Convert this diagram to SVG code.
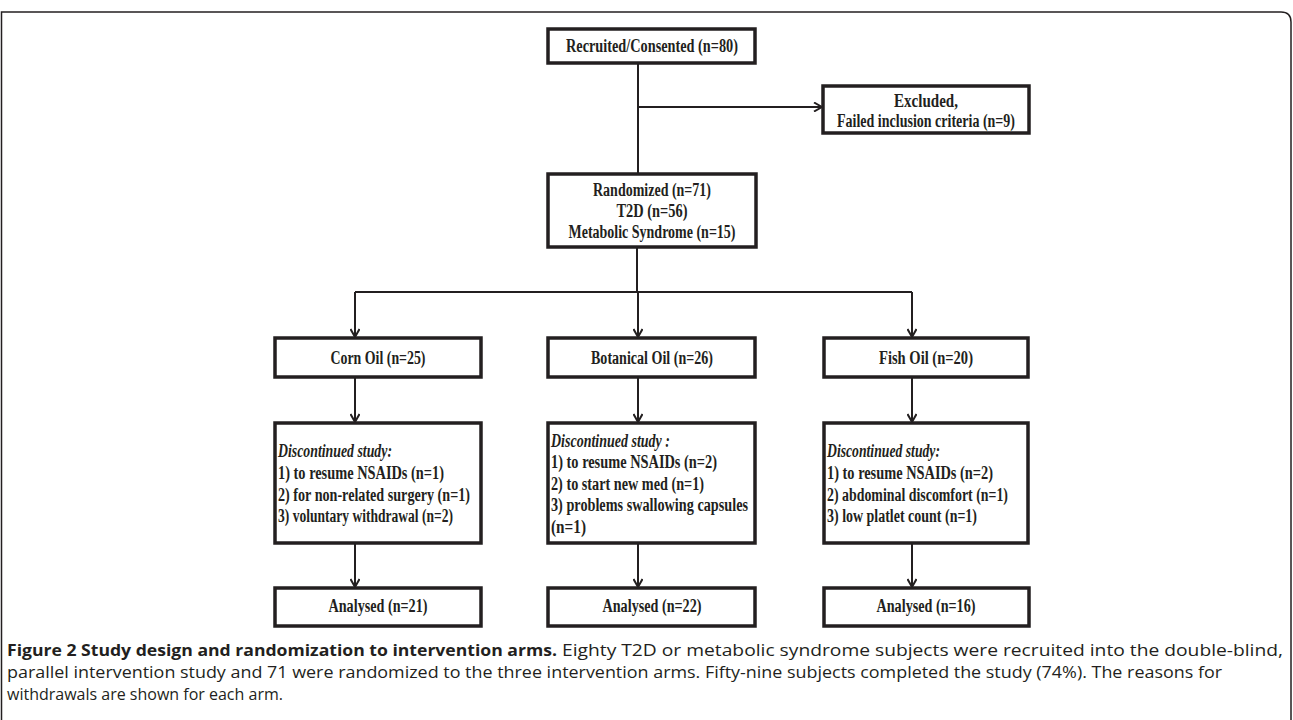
<svg xmlns="http://www.w3.org/2000/svg" width="1293" height="720" viewBox="0 0 1293 720">
<style>
.box{fill:#fff;stroke:#231f20;stroke-width:3.5}
.ln{fill:none;stroke:#231f20;stroke-width:2}
.t{font-family:"Liberation Serif",serif;font-weight:bold;font-size:18px;fill:#231f20}
.c{text-anchor:middle}
.it{font-style:italic}
.cap{font-family:"Open Sans","Noto Sans",sans-serif;font-size:16px;fill:#231f20}
.b{font-weight:bold}
</style>
<defs>
<marker id="arr" viewBox="0 0 10 10" refX="9" refY="5" markerWidth="10" markerHeight="10" markerUnits="userSpaceOnUse" orient="auto">
<polyline points="1,0.5 9,5 1,9.5" fill="none" stroke="#231f20" stroke-width="2"/>
</marker>
</defs>
<rect width="1293" height="720" fill="#fff"/>
<path d="M1.5,720 V12 H1281 Q1291,12 1291,22 V720" fill="none" stroke="#231f20" stroke-width="1.5"/>
<g id="connectors">
<path class="ln" d="M638,63 V174"/>
<path class="ln" d="M638,107 H822" marker-end="url(#arr)"/>
<path class="ln" d="M637,247 V292"/>
<path class="ln" d="M355,292 H912"/>
<path class="ln" d="M355,292 V337" marker-end="url(#arr)"/>
<path class="ln" d="M638,292 V337" marker-end="url(#arr)"/>
<path class="ln" d="M912,292 V337" marker-end="url(#arr)"/>
<path class="ln" d="M355,377 V422" marker-end="url(#arr)"/>
<path class="ln" d="M638,377 V422" marker-end="url(#arr)"/>
<path class="ln" d="M912,377 V422" marker-end="url(#arr)"/>
<path class="ln" d="M355,543 V587" marker-end="url(#arr)"/>
<path class="ln" d="M638,543 V587" marker-end="url(#arr)"/>
<path class="ln" d="M912,543 V587" marker-end="url(#arr)"/>
</g>
<g id="recruited">
<rect class="box" x="548" y="29" width="207" height="34"/>
<text class="t c" x="652" y="52" textLength="172" lengthAdjust="spacingAndGlyphs">Recruited/Consented (n=80)</text>
</g>
<g id="excluded">
<rect class="box" x="823" y="86" width="206" height="47"/>
<text class="t c" x="926" y="107" textLength="64" lengthAdjust="spacingAndGlyphs">Excluded,</text>
<text class="t c" x="926" y="127" textLength="178" lengthAdjust="spacingAndGlyphs">Failed inclusion criteria (n=9)</text>
</g>
<g id="randomized">
<rect class="box" x="548" y="174" width="208" height="73"/>
<text class="t c" x="652" y="196" textLength="118" lengthAdjust="spacingAndGlyphs">Randomized (n=71)</text>
<text class="t c" x="652" y="217" textLength="71" lengthAdjust="spacingAndGlyphs">T2D (n=56)</text>
<text class="t c" x="652" y="238" textLength="167" lengthAdjust="spacingAndGlyphs">Metabolic Syndrome (n=15)</text>
</g>
<g id="corn">
<rect class="box" x="275" y="338" width="206" height="39"/>
<text class="t c" x="378" y="364" textLength="95" lengthAdjust="spacingAndGlyphs">Corn Oil (n=25)</text>
</g>
<g id="botanical">
<rect class="box" x="548" y="338" width="207" height="39"/>
<text class="t c" x="652" y="364" textLength="122" lengthAdjust="spacingAndGlyphs">Botanical Oil (n=26)</text>
</g>
<g id="fish">
<rect class="box" x="824" y="338" width="204" height="39"/>
<text class="t c" x="926" y="364" textLength="94" lengthAdjust="spacingAndGlyphs">Fish Oil (n=20)</text>
</g>
<g id="corn-disc">
<rect class="box" x="275" y="423" width="206" height="120"/>
<text class="t it" x="278" y="457" textLength="114" lengthAdjust="spacingAndGlyphs">Discontinued study:</text>
<text class="t" x="278" y="479" textLength="166" lengthAdjust="spacingAndGlyphs">1) to resume NSAIDs (n=1)</text>
<text class="t" x="278" y="501" textLength="192" lengthAdjust="spacingAndGlyphs">2) for non-related surgery (n=1)</text>
<text class="t" x="278" y="522" textLength="175" lengthAdjust="spacingAndGlyphs">3) voluntary withdrawal (n=2)</text>
</g>
<g id="botanical-disc">
<rect class="box" x="548" y="423" width="207" height="120"/>
<text class="t it" x="551" y="447" textLength="119" lengthAdjust="spacingAndGlyphs">Discontinued study :</text>
<text class="t" x="551" y="468" textLength="166" lengthAdjust="spacingAndGlyphs">1) to resume NSAIDs (n=2)</text>
<text class="t" x="551" y="490" textLength="153" lengthAdjust="spacingAndGlyphs">2) to start new med (n=1)</text>
<text class="t" x="551" y="511" textLength="197" lengthAdjust="spacingAndGlyphs">3) problems swallowing capsules</text>
<text class="t" x="551" y="533" textLength="35" lengthAdjust="spacingAndGlyphs">(n=1)</text>
</g>
<g id="fish-disc">
<rect class="box" x="824" y="423" width="204" height="120"/>
<text class="t it" x="827" y="457" textLength="113" lengthAdjust="spacingAndGlyphs">Discontinued study:</text>
<text class="t" x="827" y="479" textLength="166" lengthAdjust="spacingAndGlyphs">1) to resume NSAIDs (n=2)</text>
<text class="t" x="827" y="501" textLength="181" lengthAdjust="spacingAndGlyphs">2) abdominal discomfort (n=1)</text>
<text class="t" x="827" y="522" textLength="150" lengthAdjust="spacingAndGlyphs">3) low platlet count (n=1)</text>
</g>
<g id="corn-analysed">
<rect class="box" x="275" y="588" width="206" height="38"/>
<text class="t c" x="378" y="612" textLength="99" lengthAdjust="spacingAndGlyphs">Analysed (n=21)</text>
</g>
<g id="botanical-analysed">
<rect class="box" x="548" y="588" width="207" height="38"/>
<text class="t c" x="652" y="612" textLength="99" lengthAdjust="spacingAndGlyphs">Analysed (n=22)</text>
</g>
<g id="fish-analysed">
<rect class="box" x="824" y="588" width="205" height="38"/>
<text class="t c" x="926" y="612" textLength="99" lengthAdjust="spacingAndGlyphs">Analysed (n=16)</text>
</g>
<g id="caption">
<text class="cap b" x="7" y="656" textLength="550" lengthAdjust="spacingAndGlyphs">Figure 2 Study design and randomization to intervention arms.</text>
<text class="cap" x="562" y="656" textLength="721" lengthAdjust="spacingAndGlyphs">Eighty T2D or metabolic syndrome subjects were recruited into the double-blind,</text>
<text class="cap" x="7" y="678" textLength="1215" lengthAdjust="spacingAndGlyphs">parallel intervention study and 71 were randomized to the three intervention arms. Fifty-nine subjects completed the study (74%). The reasons for</text>
<text class="cap" x="7" y="700">withdrawals are shown for each arm.</text>
</g>
</svg>
